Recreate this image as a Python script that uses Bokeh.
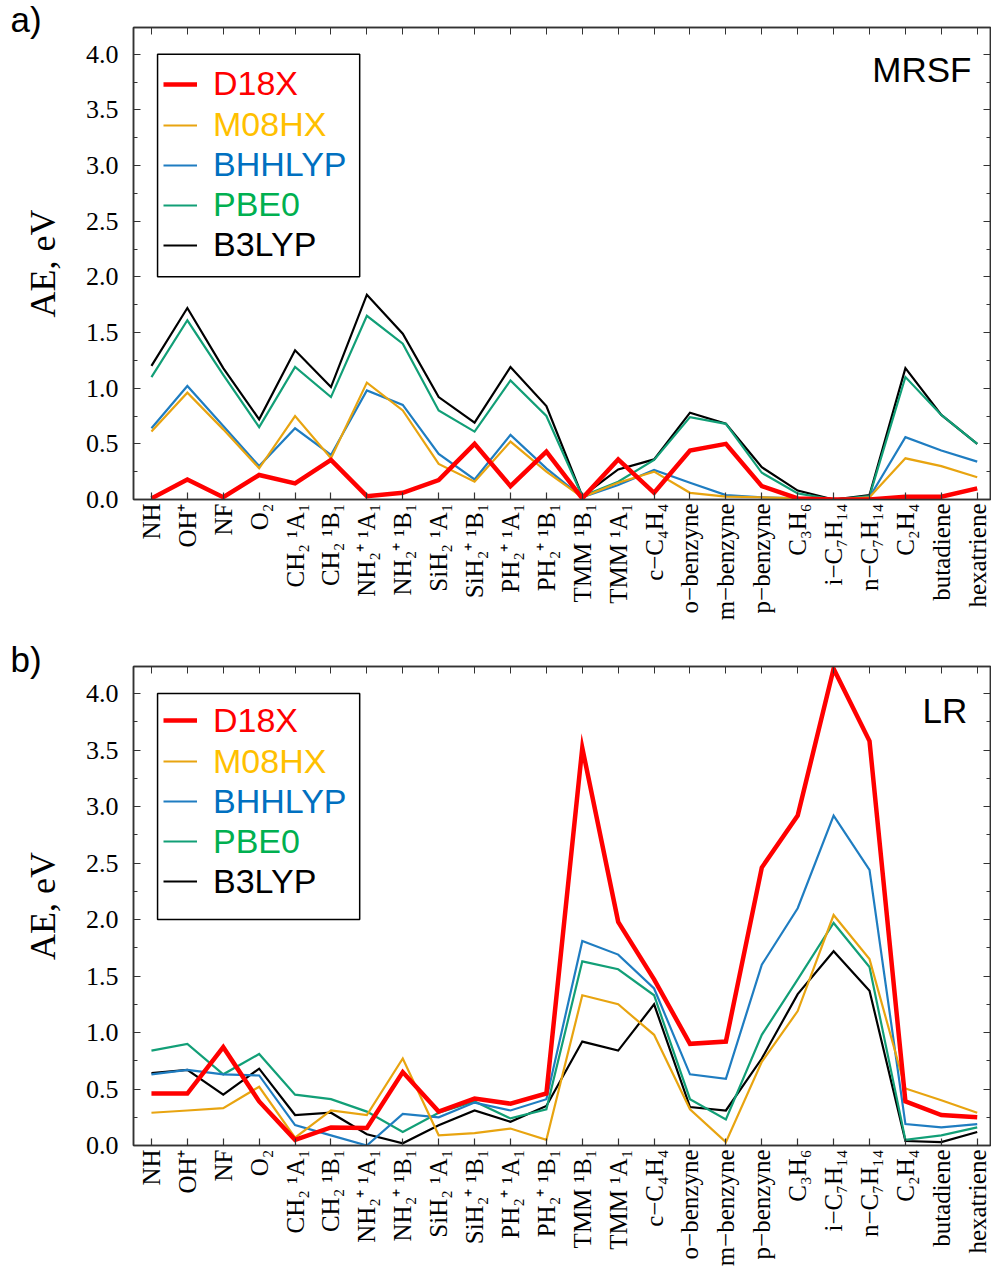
import math
from bokeh.plotting import figure
from bokeh.models import (Range1d, FixedTicker, SingleIntervalTicker, LinearAxis,
                          Legend, LegendItem, BoxAnnotation, Label, Title, NumeralTickFormatter)
from bokeh.layouts import column
from bokeh.embed import file_html
from bokeh.resources import INLINE

# ---------------- data ----------------
categories = ["NH", "OH⁺", "NF", "O₂", "CH₂ ¹A₁", "CH₂ ¹B₁", "NH₂⁺ ¹A₁", "NH₂⁺ ¹B₁",
              "SiH₂ ¹A₁", "SiH₂⁺ ¹B₁", "PH₂⁺ ¹A₁", "PH₂⁺ ¹B₁", "TMM ¹B₁", "TMM ¹A₁",
              "c−C₄H₄", "o−benzyne", "m−benzyne", "p−benzyne", "C₃H₆", "i−C₇H₁₄",
              "n−C₇H₁₄", "C₂H₄", "butadiene", "hexatriene"]

series_names = ["D18X", "M08HX", "BHHLYP", "PBE0", "B3LYP"]

# panel a) MRSF
d18x_a = [0.01, 0.18, 0.02, 0.22, 0.145, 0.355, 0.03, 0.06, 0.175, 0.50, 0.12, 0.43,
          0.01, 0.36, 0.06, 0.44, 0.50, 0.12, 0.01, 0.0, 0.0, 0.025, 0.025, 0.10]
m08hx_a = [0.61, 0.96, 0.63, 0.28, 0.75, 0.37, 1.05, 0.80, 0.32, 0.16, 0.52, 0.25,
           0.02, 0.15, 0.25, 0.06, 0.025, 0.02, 0.01, 0.0, 0.02, 0.37, 0.30, 0.20]
bhhlyp_a = [0.64, 1.02, 0.66, 0.30, 0.64, 0.40, 0.98, 0.85, 0.41, 0.18, 0.58, 0.28,
            0.02, 0.13, 0.265, 0.15, 0.04, 0.02, 0.01, 0.0, 0.02, 0.56, 0.44, 0.34]
pbe0_a = [1.10, 1.61, 1.12, 0.65, 1.19, 0.92, 1.65, 1.40, 0.80, 0.61, 1.07, 0.75,
          0.03, 0.16, 0.355, 0.74, 0.68, 0.24, 0.055, 0.0, 0.03, 1.10, 0.76, 0.50]
b3lyp_a = [1.20, 1.72, 1.18, 0.72, 1.34, 1.01, 1.84, 1.49, 0.92, 0.69, 1.19, 0.84,
           0.03, 0.27, 0.36, 0.78, 0.68, 0.29, 0.08, 0.0, 0.04, 1.18, 0.76, 0.50]

# panel b) LR
d18x_b = [0.46, 0.46, 0.87, 0.39, 0.05, 0.16, 0.155, 0.65, 0.30, 0.415, 0.37, 0.46,
          3.52, 1.98, 1.47, 0.90, 0.92, 2.46, 2.92, 4.22, 3.58, 0.39, 0.27, 0.25]
m08hx_b = [0.29, 0.31, 0.33, 0.52, 0.07, 0.31, 0.27, 0.77, 0.09, 0.11, 0.15, 0.05,
           1.33, 1.25, 0.98, 0.32, 0.03, 0.74, 1.19, 2.04, 1.65, 0.505, 0.40, 0.29]
bhhlyp_b = [0.63, 0.67, 0.63, 0.62, 0.18, 0.09, 0.00, 0.28, 0.25, 0.38, 0.31, 0.41,
            1.81, 1.69, 1.39, 0.63, 0.59, 1.60, 2.10, 2.92, 2.44, 0.19, 0.16, 0.19]
pbe0_b = [0.84, 0.90, 0.63, 0.81, 0.45, 0.41, 0.30, 0.12, 0.29, 0.39, 0.24, 0.32,
          1.63, 1.56, 1.33, 0.41, 0.23, 0.98, 1.47, 1.97, 1.58, 0.05, 0.09, 0.16]
b3lyp_b = [0.64, 0.67, 0.45, 0.68, 0.27, 0.29, 0.10, 0.02, 0.18, 0.31, 0.21, 0.35,
           0.92, 0.84, 1.25, 0.34, 0.31, 0.77, 1.34, 1.72, 1.37, 0.04, 0.03, 0.12]

# ---------------- styles ----------------
line_colors = {"D18X": "#ff0000", "M08HX": "#e8a410", "BHHLYP": "#1f7dc1",
               "PBE0": "#129f77", "B3LYP": "#000000"}
legend_colors = {"D18X": "#ff0000", "M08HX": "#ffc000", "BHHLYP": "#0070c0",
                 "PBE0": "#00b050", "B3LYP": "#000000"}
line_widths = {"D18X": 4.5, "M08HX": 2.2, "BHHLYP": 2.2, "PBE0": 2.2, "B3LYP": 2.2}

SERIF = "Liberation Serif"
SANS = "Liberation Sans"
AX = "#333333"
xs = list(range(len(categories)))


def make_panel(data, tag, name, height, top_b, bottom_b, tag_standoff, name_xy):
    p = figure(width=991, height=height, output_backend="svg", toolbar_location=None,
               title=None, x_range=Range1d(-0.5, 23.37), y_range=Range1d(0, 4.24),
               min_border_left=133, min_border_right=1,
               min_border_top=top_b, min_border_bottom=bottom_b)
    p.grid.visible = False
    p.outline_line_color = AX
    p.outline_line_width = 1.5
    p.background_fill_color = "white"
    p.border_fill_color = "white"

    # panel tag as the figure title, pulled to the top-left corner
    p.title = Title(text=tag, align="left", offset=-123, standoff=tag_standoff,
                    vertical_align="bottom", text_font=SANS, text_font_size="35px",
                    text_font_style="normal", text_color="black")

    # lines (drawn so that D18X ends on top)
    rends = {}
    for nm in ["B3LYP", "PBE0", "BHHLYP", "M08HX", "D18X"]:
        rends[nm] = p.line(xs, data[nm], line_color=line_colors[nm],
                           line_width=line_widths[nm], line_join="miter")

    # bottom axis
    xa = p.xaxis[0]
    xa.ticker = FixedTicker(ticks=xs)
    xa.major_label_overrides = {i: c for i, c in enumerate(categories)}
    xa.major_label_orientation = math.pi / 2
    xa.major_label_text_font = SERIF
    xa.major_label_text_font_size = "25px"
    xa.major_label_text_color = "black"
    xa.major_label_standoff = 4
    xa.major_tick_in = 7
    xa.major_tick_out = 0
    xa.minor_tick_line_color = None
    xa.axis_line_color = AX
    xa.axis_line_width = 1.5
    xa.major_tick_line_color = AX
    xa.major_tick_line_width = 1.2

    # left axis
    ya = p.yaxis[0]
    ya.ticker = SingleIntervalTicker(interval=0.5, num_minor_ticks=2)
    ya.formatter = NumeralTickFormatter(format="0.0")
    ya.major_label_text_font = SERIF
    ya.major_label_text_font_size = "26px"
    ya.major_label_text_color = "black"
    ya.major_label_standoff = 15
    ya.major_tick_in = 7
    ya.major_tick_out = 0
    ya.minor_tick_in = 4
    ya.minor_tick_out = 0
    ya.axis_line_color = AX
    ya.axis_line_width = 1.5
    ya.major_tick_line_color = AX
    ya.minor_tick_line_color = AX
    ya.axis_label = "AE, eV"
    ya.axis_label_text_font = SERIF
    ya.axis_label_text_font_style = "normal"
    ya.axis_label_text_font_size = "36px"
    ya.axis_label_text_color = "black"
    ya.axis_label_standoff = 20

    # mirrored tick axes (top / right), no labels
    top = LinearAxis(ticker=FixedTicker(ticks=xs), major_tick_in=7, major_tick_out=0,
                     major_label_text_font_size="0px", major_label_standoff=0,
                     major_label_overrides={i: "" for i in xs},
                     axis_line_color=AX, axis_line_width=1.5, major_tick_line_color=AX,
                     minor_tick_line_color=None)
    p.add_layout(top, "above")
    right = LinearAxis(ticker=SingleIntervalTicker(interval=0.5, num_minor_ticks=2),
                       major_tick_in=7, major_tick_out=0, minor_tick_in=4, minor_tick_out=0,
                       major_label_text_font_size="0px", major_label_standoff=0,
                       major_label_overrides={k / 2: "" for k in range(0, 10)},
                       axis_line_color=AX, axis_line_width=1.5,
                       major_tick_line_color=AX, minor_tick_line_color=AX)
    p.add_layout(right, "right")

    # legend box
    p.add_layout(BoxAnnotation(left=0.17, right=5.80, bottom=2.0, top=4.0,
                               fill_color="white", fill_alpha=1.0,
                               line_color="black", line_alpha=1.0, line_width=1.5))
    offsets = [30, 71, 111, 151, 191]
    y4 = 4.0 / 4.24 * (height - top_b - bottom_b)
    for nm, off in zip(series_names, offsets):
        leg = Legend(items=[LegendItem(label=nm, renderers=[rends[nm]])],
                     location=(30, y4 - off - 20), padding=0, margin=0, spacing=0,
                     border_line_color=None, background_fill_alpha=0,
                     label_text_color=legend_colors[nm], label_text_font=SANS,
                     label_text_font_size="34px", glyph_width=34, glyph_height=40,
                     label_height=40, label_standoff=16)
        p.add_layout(leg, "center")

    p.add_layout(Label(x=name_xy[0], y=name_xy[1], text=name, text_align="right",
                       text_baseline="middle", text_font=SANS, text_font_size="35px",
                       text_color="black"))
    return p


data_a = {"D18X": d18x_a, "M08HX": m08hx_a, "BHHLYP": bhhlyp_a, "PBE0": pbe0_a, "B3LYP": b3lyp_a}
data_b = {"D18X": d18x_b, "M08HX": m08hx_b, "BHHLYP": bhhlyp_b, "PBE0": pbe0_b, "B3LYP": b3lyp_b}

pa = make_panel(data_a, "a)", "MRSF", 636, 27, 137, -22, (22.84, 3.86))
pb = make_panel(data_b, "b)", "LR", 633, 30, 121, -24, (22.72, 3.85))

layout = column(pa, pb, spacing=0)
open("out.html", "w").write(file_html(layout, INLINE))
